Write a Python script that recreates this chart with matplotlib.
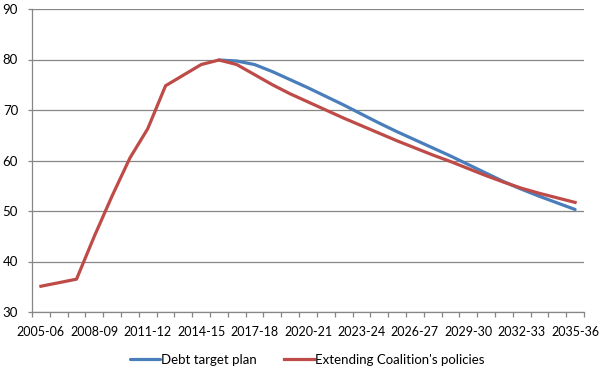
import matplotlib
matplotlib.use("Agg")
import matplotlib.pyplot as plt
import numpy as np

years = [f"{y}-{(y + 1) % 100:02d}" for y in range(2005, 2036)]

debt_target_plan = [None] * 10 + [
                    79.9, 79.7, 79.0, 77.6, 76.0, 74.4, 72.7, 71.0, 69.2, 67.4,
                    65.7, 64.1, 62.5, 60.9, 59.2, 57.5, 55.8, 54.3, 52.9, 51.6,
                    50.3]
extending_policies = [35.1, 35.8, 36.5, 45.0, 53.0, 60.5, 66.3, 74.8, 76.9, 79.0,
                      79.9, 79.0, 77.0, 75.0, 73.2, 71.6, 70.0, 68.4, 66.9, 65.4,
                      63.9, 62.5, 61.1, 59.8, 58.4, 57.0, 55.7, 54.5, 53.5, 52.6,
                      51.7]
series_names = ["Debt target plan", "Extending Coalition's policies"]
y_ticks = [30, 40, 50, 60, 70, 80, 90]

plt.rcParams['font.family'] = ['Lato', 'DejaVu Sans']

fig = plt.figure(figsize=(6.0, 3.69), dpi=100)
ax = fig.add_axes([32/600, 1-312/369, 552/600, 303/369])

x = np.arange(len(years))
grid_c = "#868686"
blue = np.array([np.nan if v is None else v for v in debt_target_plan])
ax.plot(x, blue, color="#4A7EBB", lw=2.3, label=series_names[0],
        solid_joinstyle='round', solid_capstyle='round', zorder=3)
ax.plot(x, extending_policies, color="#BE4B48", lw=2.3, label=series_names[1],
        solid_joinstyle='round', zorder=4)

ax.set_xlim(-0.5, len(years) - 0.5)
ax.set_ylim(30, 90)
ax.set_yticks(y_ticks)
ax.set_yticklabels([str(v) for v in y_ticks])
ax.set_xticks(x[::3])
ax.set_xticklabels(years[::3])
ax.set_xticks(np.arange(-0.5, len(years) + 0.5, 1.0), minor=True)

ax.yaxis.grid(True, color=grid_c, lw=0.9)
ax.set_axisbelow(True)
for s in ["top", "right"]:
    ax.spines[s].set_visible(False)
for s in ["left", "bottom"]:
    ax.spines[s].set_color(grid_c)
    ax.spines[s].set_linewidth(0.9)

tfs = 9.0
ax.tick_params(axis='y', length=3, width=0.9, color=grid_c, pad=7,
               labelsize=9.5, labelcolor="#000000")
ax.tick_params(axis='x', which='major', length=0, pad=10,
               labelsize=tfs, labelcolor="#000000")
ax.tick_params(axis='x', which='minor', length=3.5, width=0.9, color=grid_c)

fig.legend(loc='center', bbox_to_anchor=(0.512, 1 - 360/369), ncol=2,
           frameon=False, fontsize=9.5, handlelength=2.3, handletextpad=0.1,
           columnspacing=2.0)

fig.savefig("out.png", dpi=100)
